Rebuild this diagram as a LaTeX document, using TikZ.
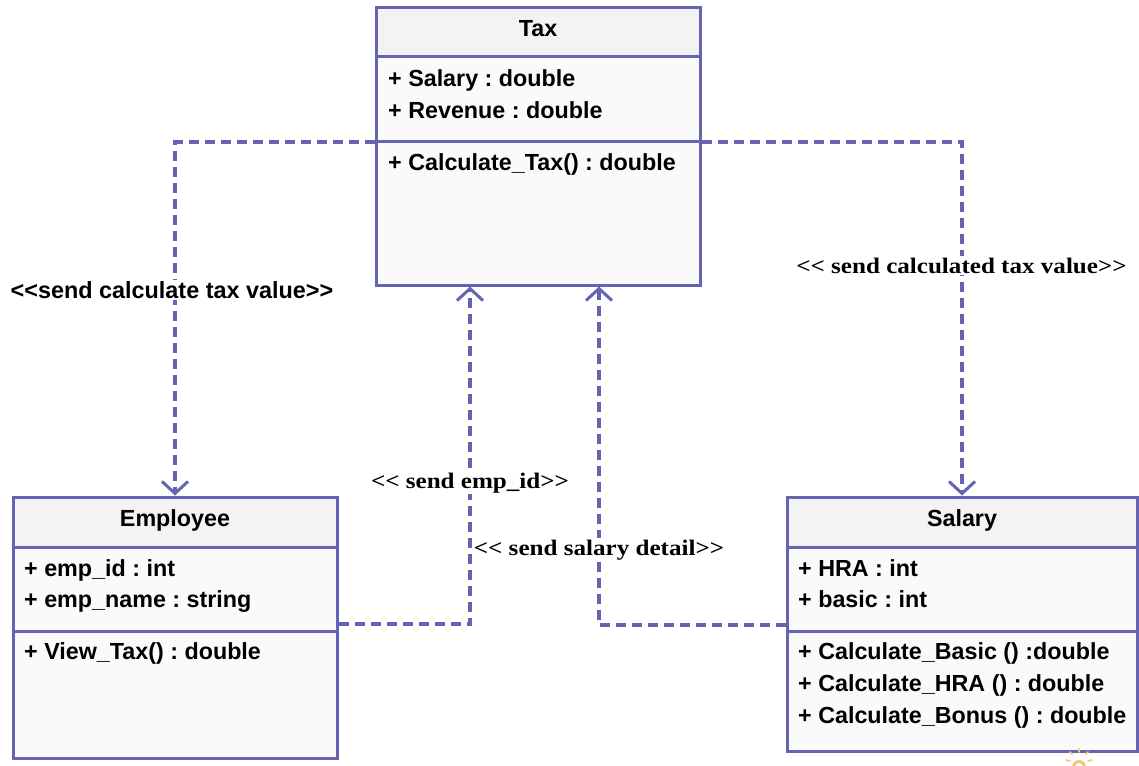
\documentclass[tikz,border=0pt]{standalone}
\usepackage{fontspec}
\setmainfont{Liberation Sans}
\newfontfamily\msgserif[FakeStretch=1.13]{Liberation Serif}
\usetikzlibrary{arrows.meta}
\definecolor{umlline}{RGB}{100,100,178}
\definecolor{headfill}{RGB}{243,243,243}
\definecolor{bodyfill}{RGB}{250,250,250}
\definecolor{sunorange}{RGB}{246,198,112}
\frenchspacing
\begin{document}
\begin{tikzpicture}[x=1pt,y=-1pt,
  umlbox/.style={draw=umlline,line width=3pt,fill=bodyfill,inner sep=0pt,
    path picture={\fill[headfill] (path picture bounding box.north west)
      rectangle ([yshift=-49.5pt]path picture bounding box.north east);}},
  umlsep/.style={draw=umlline,line width=3pt},
  member/.style={anchor=base west,inner sep=0pt,font=\fontsize{23.3}{28}\selectfont\bfseries},
  classname/.style={anchor=base,inner sep=0pt,font=\fontsize{23.3}{28}\selectfont\bfseries},
  dep/.style={draw=umlline,line width=3.1pt,dash pattern=on 10pt off 6pt,
    -{Straight Barb[length=12pt,width=26pt,line width=3pt]}},
  msg/.style={anchor=base,fill=white,inner sep=1.5pt,font=\msgserif\fontsize{22.2}{26}\selectfont\bfseries},
  msgsans/.style={anchor=base,fill=white,inner sep=1.5pt,font=\fontsize{23.4}{28}\selectfont\bfseries}]
\useasboundingbox (0,0) rectangle (1139,765);

% class boxes
\node[umlbox,minimum width=324pt,minimum height=277pt] (tax) at (538,146.5) {};
\node[umlbox,minimum width=324pt,minimum height=261pt] (emp) at (175,627.5) {};
\node[umlbox,minimum width=350pt,minimum height=254pt] (sal) at (962,624) {};

% compartment separators
\draw[umlsep] (tax.west |- 0,57) -- (tax.east |- 0,57);
\draw[umlsep] (tax.west |- 0,141.5) -- (tax.east |- 0,141.5);
\draw[umlsep] (emp.west |- 0,547) -- (emp.east |- 0,547);
\draw[umlsep] (emp.west |- 0,631.5) -- (emp.east |- 0,631.5);
\draw[umlsep] (sal.west |- 0,547) -- (sal.east |- 0,547);
\draw[umlsep] (sal.west |- 0,631) -- (sal.east |- 0,631);

% Tax
\node[classname] (taxname) at (538,36.5) {Tax};
\node[member] (taxa1) at (388,87) {+ Salary : double};
\node[member] (taxa2) at (388,118) {+ Revenue : double};
\node[member] (taxm1) at (388,170) {+ Calculate\_Tax() : double};

% Employee
\node[classname] (empname) at (175,526) {Employee};
\node[member] (empa1) at (24,576) {+ emp\_id : int};
\node[member] (empa2) at (24,607.5) {+ emp\_name : string};
\node[member] (empm1) at (24,659.5) {+ View\_Tax() : double};

% Salary
\node[classname] (salname) at (962,526) {Salary};
\node[member] (sala1) at (798,576) {+ HRA : int};
\node[member] (sala2) at (798,607.5) {+ basic : int};
\node[member] (salm1) at (798,659.5) {+ Calculate\_Basic () :double};
\node[member] (salm2) at (798,691.5) {+ Calculate\_HRA () : double};
\node[member] (salm3) at (798,723) {+ Calculate\_Bonus () : double};

% dependencies
\draw[dep] (tax.west |- 0,142) -| (emp.north);
\draw[dep] (tax.east |- 0,142) -| (sal.north);
\draw[dep] (emp.east |- 0,624) -| (tax.south -| 470,0);
\draw[dep] (sal.west |- 0,625) -| (tax.south -| 599,0);

% messages
\node[msgsans] (m1) at (172,298) {<{}<send calculate tax value>{}>};
\node[msg] (m2) at (961.5,273) {<{}< send calculated tax value>{}>};
\node[msg] (m3) at (470,488) {<{}< send emp\_id>{}>};
\node[msg] (m4) at (599,555) {<{}< send salary detail>{}>};

% small sun mark
\fill[sunorange] (1079,767) circle (7pt);
\fill[white] (1079,767) circle (4pt);
\draw[sunorange,line width=1.6pt,line cap=round]
  (1066,760) -- (1070,761)
  (1092,760) -- (1088,761)
  (1079,749) -- (1079,752)
  (1070,752) -- (1072,754)
  (1088,752) -- (1086,754);
\end{tikzpicture}
\end{document}
